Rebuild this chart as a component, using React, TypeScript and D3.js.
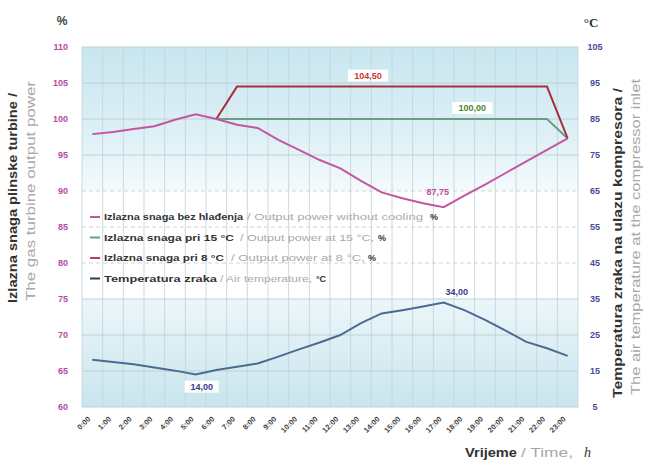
import React from "react";
import * as d3 from "d3";

const hours = ["0:00","1:00","2:00","3:00","4:00","5:00","6:00","7:00","8:00","9:00","10:00","11:00","12:00","13:00","14:00","15:00","16:00","17:00","18:00","19:00","20:00","21:00","22:00","23:00"];
const powerNoCooling = [97.9, 98.2, 98.6, 99.0, 99.9, 100.65, 100.0, 99.2, 98.75, 97.1, 95.7, 94.3, 93.15, 91.4, 89.8, 89.0, 88.3, 87.75, 89.35, 90.9, 92.5, 94.1, 95.7, 97.3];
const powerAt15: (number | null)[] = [null, null, null, null, null, null, 100, 100, 100, 100, 100, 100, 100, 100, 100, 100, 100, 100, 100, 100, 100, 100, 100, 97.3];
const powerAt8: (number | null)[] = [null, null, null, null, null, null, 100, 104.5, 104.5, 104.5, 104.5, 104.5, 104.5, 104.5, 104.5, 104.5, 104.5, 104.5, 104.5, 104.5, 104.5, 104.5, 104.5, 97.3];
const airTemp = [18.1, 17.5, 16.9, 16.0, 15.1, 14.0, 15.3, 16.2, 17.1, 19.0, 21.0, 22.9, 25.0, 28.3, 31.0, 31.9, 32.9, 34.0, 31.9, 29.2, 26.2, 23.1, 21.3, 19.2];
const leftTicks = [60, 65, 70, 75, 80, 85, 90, 95, 100, 105, 110];
const rightTicks = [5, 15, 25, 35, 45, 55, 65, 75, 85, 95, 105];

const legendItems = [
  { bold: "Izlazna snaga bez hlađenja", boldLen: 139, grey: "/ Output power without cooling", greyX: 247, greyLen: 176, unit: "%", unitX: 430, color: "#c4569f" },
  { bold: "Izlazna snaga pri 15 °C", boldLen: 130, grey: "/ Output power at 15 °C,", greyX: 240, greyLen: 134, unit: "%", unitX: 378, color: "#5f9c9c" },
  { bold: "Izlazna snaga pri 8 °C", boldLen: 120, grey: "/ Output power at 8 °C,", greyX: 231, greyLen: 134, unit: "%", unitX: 368, color: "#b0406a" },
  { bold: "Temperatura zraka", boldLen: 113, grey: "/ Air temperature,", greyX: 220, greyLen: 92, unit: "°C", unitX: 316, color: "#2c3c5c" },
];

const L = 82, R = 578, T = 47, B = 407;

export default function App() {
  const x = d3.scalePoint<string>().domain(hours).range([L, R]).padding(0.5);
  const bandW = (R - L) / hours.length;
  const yL = d3.scaleLinear().domain([60, 110]).range([B, T]);
  const yR = d3.scaleLinear().domain([5, 105]).range([B, T]);

  const lineL = d3.line<number | null>()
    .defined((d) => d !== null)
    .x((_, i) => x(hours[i]) as number)
    .y((d) => yL(d as number));
  const lineR = d3.line<number>()
    .x((_, i) => x(hours[i]) as number)
    .y((d) => yR(d));

  const font = "'Liberation Sans', Arial, sans-serif";
  const xi = (h: string) => x(h) as number;

  return (
    <div style={{ position: "fixed", left: 0, top: 0 }}>
      <svg width={651} height={463} style={{ display: "block", background: "#fff" }} fontFamily={font}>
        <defs>
          <linearGradient id="topBand" x1="0" y1="0" x2="0" y2="1">
            <stop offset="0" stopColor="#c8e6ef" />
            <stop offset="0.6" stopColor="#ddf0f6" />
            <stop offset="1" stopColor="#f3fafc" />
          </linearGradient>
          <linearGradient id="botBand" x1="0" y1="0" x2="0" y2="1">
            <stop offset="0" stopColor="#ebf6f9" />
            <stop offset="1" stopColor="#c9e5ee" />
          </linearGradient>
        </defs>
        <rect x={L} y={yL(110)} width={R - L} height={yL(90) - yL(110)} fill="url(#topBand)" />
        <rect x={L} y={yL(75)} width={R - L} height={yL(60) - yL(75)} fill="url(#botBand)" />

        {d3.range(hours.length + 1).map((k) => (
          <line key={"v" + k} x1={L + k * bandW} x2={L + k * bandW} y1={T} y2={B} stroke="#c3d6dc" strokeWidth={0.9} />
        ))}
        {leftTicks.map((t) => {
          const white = t > 75 && t <= 90;
          return (
            <line key={"h" + t} x1={L} x2={R} y1={yL(t)} y2={yL(t)}
              stroke={white ? "#cfcfcf" : "#bccdd3"} strokeWidth={0.9}
              strokeDasharray={white ? "4,3" : undefined} />
          );
        })}

        {leftTicks.map((t) => (
          <text key={"lt" + t} x={68} y={yL(t)} dy="0.35em" textAnchor="end" fontSize={9} fontWeight="bold" fill="#b84aa6">{t}</text>
        ))}
        {rightTicks.map((t) => (
          <text key={"rt" + t} x={595} y={yR(t)} dy="0.35em" textAnchor="middle" fontSize={9} fontWeight="bold" fill="#4a4a96">{t}</text>
        ))}
        <text x={62} y={25} textAnchor="middle" fontSize={12} fill="#444" fontWeight="bold">%</text>
        <text x={591} y={27} textAnchor="middle" fontSize={13} fill="#333" fontFamily="'Liberation Serif', serif" fontWeight="bold">°C</text>

        {hours.map((h) => (
          <text key={"x" + h} transform={`translate(${xi(h) - 3},${418}) rotate(-45)`} textAnchor="end" dy="0.3em" fontSize={7.5} fontWeight="bold" fill="#444">{h}</text>
        ))}

        <text transform={`translate(17,${198}) rotate(-90)`} textAnchor="middle" fontSize={12.5} fontWeight="bold" fill="#333" textLength={210} lengthAdjust="spacingAndGlyphs">Izlazna snaga plinske turbine /</text>
        <text transform={`translate(35,${191}) rotate(-90)`} textAnchor="middle" fontSize={12.5} fill="#a8a8a8" textLength={220} lengthAdjust="spacingAndGlyphs">The gas turbine output power</text>
        <text transform={`translate(622,${243}) rotate(-90)`} textAnchor="middle" fontSize={13} fontWeight="bold" fill="#333" textLength={310} lengthAdjust="spacingAndGlyphs">Temperatura zraka na ulazu kompresora /</text>
        <text transform={`translate(640,${237}) rotate(-90)`} textAnchor="middle" fontSize={13} fill="#a8a8a8" textLength={316} lengthAdjust="spacingAndGlyphs">The air temperature at the compressor inlet</text>

        <text x={465} y={457} fontSize={13} fontWeight="bold" fill="#333" textLength={52} lengthAdjust="spacingAndGlyphs">Vrijeme</text>
        <text x={521} y={457} fontSize={13} fill="#a8a8a8" textLength={52} lengthAdjust="spacingAndGlyphs">/ Time,</text>
        <text x={584} y={457} fontSize={14} fontStyle="italic" fill="#333" fontFamily="'Liberation Serif', serif">h</text>

        {legendItems.map((it, i) => {
          const yy = 217 + i * 20.5;
          return (
            <g key={"lg" + i}>
              <line x1={90} x2={100} y1={yy} y2={yy} stroke={it.color} strokeWidth={2} />
              <text x={104} y={yy} dy="0.35em" fontSize={9} fontWeight="bold" fill="#333" textLength={it.boldLen} lengthAdjust="spacingAndGlyphs">{it.bold}</text>
              <text x={it.greyX} y={yy} dy="0.35em" fontSize={9} fill="#aaaaaa" textLength={it.greyLen} lengthAdjust="spacingAndGlyphs">{it.grey}</text>
              <text x={it.unitX} y={yy} dy="0.35em" fontSize={9} fontWeight="bold" fill="#333">{it.unit}</text>
            </g>
          );
        })}

        <path d={lineL(powerAt15) ?? ""} fill="none" stroke="#6c9c84" strokeWidth={2} />
        <path d={lineL(powerAt8) ?? ""} fill="none" stroke="#a8303e" strokeWidth={2} />
        <path d={lineL(powerNoCooling) ?? ""} fill="none" stroke="#c4569f" strokeWidth={2} />
        <path d={lineR(airTemp) ?? ""} fill="none" stroke="#4d6a92" strokeWidth={2} />

        <rect x={xi("13:00") - 13} y={yL(104.5) - 17} width={40} height={12} fill="#fff" />
        <text x={xi("13:00") + 7} y={yL(104.5) - 11} dy="0.35em" textAnchor="middle" fontSize={9} fontWeight="bold" fill="#cc3838">104,50</text>
        <rect x={xi("18:00") - 12} y={yL(100) - 17} width={40} height={12} fill="#fff" />
        <text x={xi("18:00") + 8} y={yL(100) - 11} dy="0.35em" textAnchor="middle" fontSize={9} fontWeight="bold" fill="#4a8a30">100,00</text>
        <text x={xi("17:00") - 6} y={yL(87.75) - 15} dy="0.35em" textAnchor="middle" fontSize={9} fontWeight="bold" fill="#c04aa4">87,75</text>
        <rect x={xi("5:00") - 11} y={yR(14) + 6} width={34} height={12} fill="#fff" />
        <text x={xi("5:00") + 6} y={yR(14) + 12} dy="0.35em" textAnchor="middle" fontSize={9} fontWeight="bold" fill="#3a3a8a">14,00</text>
        <text x={xi("17:00") + 13} y={yR(34) - 11} dy="0.35em" textAnchor="middle" fontSize={9} fontWeight="bold" fill="#3a3a8a">34,00</text>
      </svg>
    </div>
  );
}
